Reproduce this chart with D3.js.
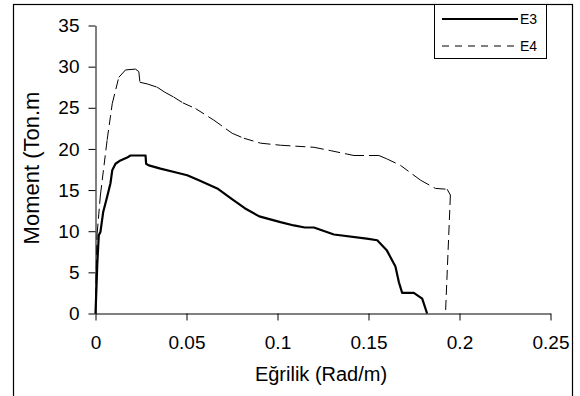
<!DOCTYPE html>
<html>
<head>
<meta charset="utf-8">
<script src="https://cdn.jsdelivr.net/npm/d3@7"></script>
<style>
  body { margin: 0; background: #fff; }
  svg text { font-family: "Liberation Sans", Arial, sans-serif; fill: #000; }
</style>
</head>
<body>
<svg id="chart" width="580" height="396"></svg>
<script>
// curvature (Rad/m) and moment (Ton.m)
var e3Curv = [0, 0.0004, 0.001, 0.0018, 0.0027, 0.0042, 0.0064, 0.0082, 0.0092, 0.011, 0.0137, 0.0174, 0.0192,
  0.0275, 0.0278, 0.0293, 0.0357, 0.0449, 0.0504, 0.0568, 0.0669, 0.075, 0.082, 0.09, 0.1016, 0.109, 0.115, 0.12,
  0.131, 0.149, 0.1548, 0.160, 0.1648, 0.1667, 0.1685, 0.1749, 0.1795, 0.1822];
var e3Moment = [0, 2.4, 6.1, 9.5, 9.9, 12.3, 14.2, 15.8, 17.4, 18.2, 18.6, 18.95, 19.2,
  19.2, 18.2, 18.0, 17.6, 17.1, 16.8, 16.2, 15.2, 13.9, 12.8, 11.8, 11.1, 10.7, 10.45, 10.45,
  9.6, 9.1, 8.9, 7.7, 5.7, 3.8, 2.5, 2.5, 1.8, 0];

var e4Curv = [0, 0.0004, 0.0009, 0.0027, 0.0064, 0.0092, 0.0128, 0.0165, 0.022, 0.0238, 0.0244, 0.0284, 0.0339,
  0.038, 0.043, 0.048, 0.055, 0.065, 0.0751, 0.0815, 0.0907, 0.1016, 0.12, 0.129, 0.142, 0.1557, 0.160, 0.1676,
  0.1786, 0.1868, 0.1932, 0.195, 0.1923];
var e4Moment = [0, 5.3, 9.7, 14.4, 21.1, 25.5, 28.7, 29.6, 29.7, 29.4, 28.1, 27.9, 27.5,
  26.9, 26.3, 25.6, 24.9, 23.5, 21.9, 21.3, 20.7, 20.45, 20.2, 19.8, 19.2, 19.2, 18.8, 18.0,
  16.2, 15.2, 15.1, 14.4, 0];

var xTicks = [0, 0.05, 0.1, 0.15, 0.2, 0.25];
var yTicks = [0, 5, 10, 15, 20, 25, 30, 35];
var seriesNames = ["E3", "E4"];

var svg = d3.select("#chart");

// outer frame (bottom edge runs off the picture)
svg.append("rect")
  .attr("x", 13.5).attr("y", 4.5)
  .attr("width", 559).attr("height", 420)
  .attr("fill", "none").attr("stroke", "#000").attr("stroke-width", 1.2);

var x = d3.scaleLinear().domain([0, 0.25]).range([95.5, 550.5]);
var y = d3.scaleLinear().domain([0, 35]).range([313.5, 25.5]);

// axes
var xAxis = svg.append("g")
  .attr("transform", "translate(0," + y(0) + ")")
  .call(d3.axisBottom(x).tickValues(xTicks).tickSize(7).tickSizeOuter(0).tickPadding(15)
    .tickFormat(function(d) { return String(d); }));
var yAxis = svg.append("g")
  .attr("transform", "translate(" + x(0) + ",0)")
  .call(d3.axisLeft(y).tickValues(yTicks).tickSize(7).tickSizeOuter(0).tickPadding(9));

[xAxis, yAxis].forEach(function(g) {
  g.select(".domain").attr("stroke", "#000");
  g.selectAll(".tick line").attr("stroke", "#000");
  g.selectAll(".tick text").style("font-size", "19px").attr("fill", "#000");
});

// axis titles
svg.append("text")
  .attr("x", 321).attr("y", 381)
  .attr("text-anchor", "middle")
  .style("font-size", "20px")
  .text("Eğrilik (Rad/m)");

svg.append("text")
  .attr("transform", "translate(39,168) rotate(-90)")
  .attr("text-anchor", "middle")
  .style("font-size", "22px")
  .text("Moment (Ton.m");

// curves
var line = d3.line()
  .x(function(d) { return x(d[0]); })
  .y(function(d) { return y(d[1]); });

var e3 = d3.zip(e3Curv, e3Moment);
var e4 = d3.zip(e4Curv, e4Moment);

svg.append("path")
  .datum(e3)
  .attr("d", line)
  .attr("fill", "none")
  .attr("stroke", "#000")
  .attr("stroke-width", 2.2)
  .attr("stroke-linejoin", "round");

// E4: dash pattern restarts on every segment, like the spreadsheet renderer
svg.selectAll(".e4seg")
  .data(d3.pairs(e4))
  .enter().append("path")
  .attr("class", "e4seg")
  .attr("d", line)
  .attr("fill", "none")
  .attr("stroke", "#000")
  .attr("stroke-width", 1)
  .attr("stroke-dasharray", "10,5");

// legend
var legend = svg.append("g");
legend.append("rect")
  .attr("x", 434.5).attr("y", 4.5)
  .attr("width", 112).attr("height", 54)
  .attr("fill", "#fff").attr("stroke", "#000");

var rows = legend.selectAll(".row")
  .data(seriesNames)
  .enter().append("g")
  .attr("class", "row")
  .attr("transform", function(d, i) { return "translate(0," + (19 + i * 27) + ")"; });

rows.append("line")
  .attr("x1", 442).attr("x2", 518)
  .attr("stroke", "#000")
  .attr("stroke-width", function(d, i) { return i === 0 ? 2.2 : 1; })
  .attr("stroke-dasharray", function(d, i) { return i === 0 ? null : "7,6"; });

rows.append("text")
  .attr("x", 520).attr("y", 5)
  .style("font-size", "14px")
  .text(function(d) { return d; });
</script>
</body>
</html>
